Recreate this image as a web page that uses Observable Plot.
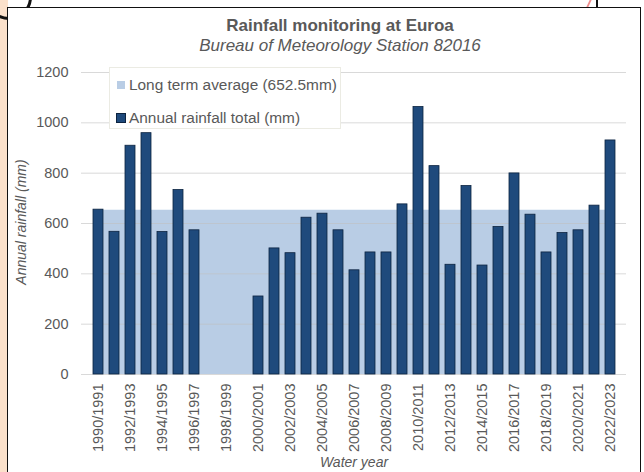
<!DOCTYPE html>
<html>
<head>
<meta charset="utf-8">
<script src="https://cdn.jsdelivr.net/npm/d3@7"></script>
<script src="https://cdn.jsdelivr.net/npm/@observablehq/plot@0.6"></script>
<style>
  body { margin: 0; background: #fff; }
  #page { position: relative; width: 644px; height: 472px; overflow: hidden; background: #fff; font-family: "Liberation Sans", Arial, sans-serif; }
  #peach { position: absolute; left: 0; top: 0; width: 8px; height: 472px; background: #fbe1cb; }
  #frame { position: absolute; left: 7px; top: 7px; width: 632px; height: 480px; border: 1.5px solid #111; background: #fff; }
  #chart { position: absolute; left: 0; top: 0; }
  .title { position: absolute; left: 140px; width: 400px; text-align: center; color: #595959; white-space: nowrap; }
  #t1 { top: 16px; font-size: 17px; font-weight: bold; }
  #t2 { top: 36px; font-size: 17px; font-style: italic; }
  #ylab { position: absolute; left: 21px; top: 222px; transform: translate(-50%, -50%) rotate(-90deg); color: #595959; font-size: 14px; font-style: italic; white-space: nowrap; }
  #legend { position: absolute; left: 109px; top: 67px; width: 230px; height: 60px; border: 1px solid #ebebe3; background: #fff; color: #595959; font-size: 15.4px; }
  .item { position: absolute; left: 7px; white-space: nowrap; line-height: 17px; }
  .sw { display: inline-block; width: 8px; height: 8px; margin-right: 4px; vertical-align: 1px; }
  .deco { position: absolute; }
</style>
</head>
<body>
<div id="page">
  <div id="peach"></div>
  <div class="deco" style="left:-14px;top:-26px;width:40px;height:40px;border:3px solid #111;border-radius:50%;"></div>
  <div class="deco" style="left:596px;top:0;width:2px;height:8px;background:#111;"></div>
  <div class="deco" style="left:588px;top:0;width:2px;height:7px;background:#f08c8c;transform:skewX(-25deg);"></div>
  <div id="frame"></div>
  <div id="chart"></div>
  <div class="title" id="t1">Rainfall monitoring at Euroa</div>
  <div class="title" id="t2">Bureau of Meteorology Station 82016</div>
  <div id="ylab">Annual rainfall (mm)</div>
  <div id="legend">
    <div class="item" style="top:8px"><span class="sw" style="background:#b9cde5"></span>Long term average (652.5mm)</div>
    <div class="item" style="top:41px"><span class="sw" style="background:#1f4a7c;outline:0.5px solid #0c2340"></span>Annual rainfall total (mm)</div>
  </div>
</div>
<script>
const categories = [
  "1990/1991","1991/1992","1992/1993","1993/1994","1994/1995","1995/1996","1996/1997",
  "1997/1998","1998/1999","1999/2000","2000/2001","2001/2002","2002/2003","2003/2004",
  "2004/2005","2005/2006","2006/2007","2007/2008","2008/2009","2009/2010","2010/2011",
  "2011/2012","2012/2013","2013/2014","2014/2015","2015/2016","2016/2017","2017/2018",
  "2018/2019","2019/2020","2020/2021","2021/2022","2022/2023"
];
const rainfall = [
  655, 567, 909, 959, 566, 733, 573,
  null, null, null, 310, 501, 482, 623,
  639, 573, 414, 485, 485, 676, 1063,
  828, 436, 749, 433, 586, 799, 635,
  485, 562, 573, 671, 930
];
const longTermAverage = 652.5;
const xTickLabels = [
  "1990/1991","1992/1993","1994/1995","1996/1997","1998/1999","2000/2001","2002/2003",
  "2004/2005","2006/2007","2008/2009","2010/2011","2012/2013","2014/2015","2016/2017",
  "2018/2019","2020/2021","2022/2023"
];
const yTicks = [0, 200, 400, 600, 800, 1000, 1200];

const bars = categories.map((c, i) => ({year: c, value: rainfall[i]})).filter(d => d.value != null);
const avgRows = categories.map(c => ({year: c, value: longTermAverage}));

const chart = Plot.plot({
  width: 644,
  height: 472,
  marginTop: 72,
  marginBottom: 98,
  marginLeft: 81,
  marginRight: 18,
  style: {background: "transparent", fontFamily: "Liberation Sans, Arial, sans-serif"},
  x: {type: "band", domain: categories, paddingInner: 0.4, paddingOuter: 0.2},
  y: {domain: [0, 1200]},
  marks: [
    Plot.areaY(avgRows, {x: "year", y: "value", fill: "#b9cde5"}),
    Plot.gridY(yTicks, {stroke: "#bfbfbf", strokeOpacity: 0.6}),
    Plot.barY(bars, {x: "year", y: "value", fill: "#1f4a7c", stroke: "#0c2340", strokeWidth: 0.8}),
    Plot.axisY(yTicks, {tickSize: 0, tickPadding: 13, fontSize: 14.5, color: "#595959", label: null, tickFormat: d => String(d)}),
    Plot.axisX(xTickLabels, {tickSize: 0, tickPadding: 9, tickRotate: -90, fontSize: 14.5, color: "#595959", label: null}),
    Plot.text(["Water year"], {frameAnchor: "bottom", dy: 92, fontSize: 14, fontStyle: "italic", fill: "#595959"})
  ]
});
document.getElementById("chart").appendChild(chart);
</script>
</body>
</html>
